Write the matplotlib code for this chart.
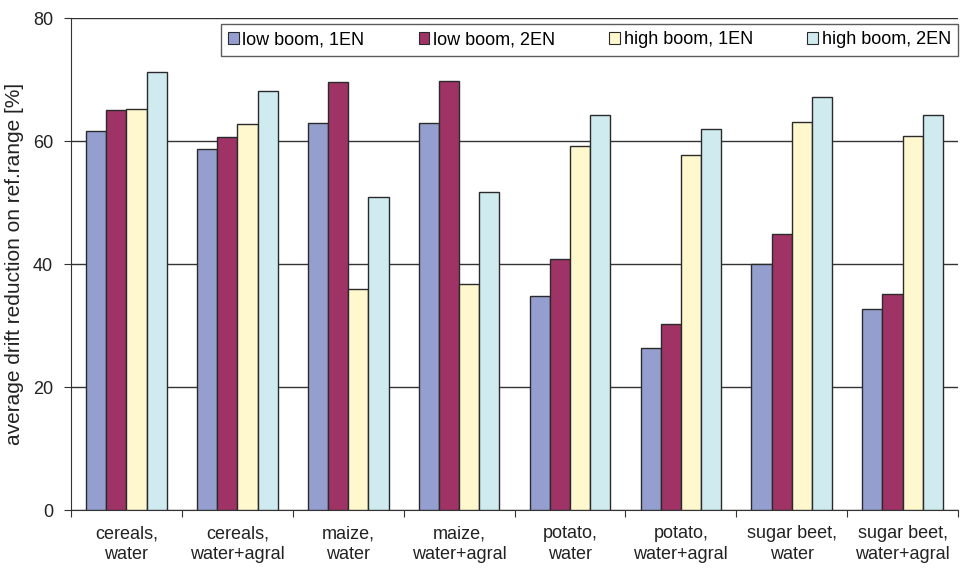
import matplotlib.pyplot as plt
import numpy as np

plt.rcParams['font.family'] = ['Liberation Sans', 'DejaVu Sans']

# categories and series
categories = ["cereals,\nwater", "cereals,\nwater+agral", "maize,\nwater", "maize,\nwater+agral",
              "potato,\nwater", "potato,\nwater+agral", "sugar beet,\nwater", "sugar beet,\nwater+agral"]
series = ["low boom, 1EN", "low boom, 2EN", "high boom, 1EN", "high boom, 2EN"]
low_1en = [61.7, 58.8, 62.9, 63.0, 34.8, 26.4, 40.1, 32.7]
low_2en = [65.1, 60.7, 69.6, 69.8, 40.9, 30.2, 44.9, 35.1]
high_1en = [65.3, 62.8, 35.9, 36.7, 59.2, 57.7, 63.1, 60.9]
high_2en = [71.3, 68.1, 50.9, 51.8, 64.3, 61.9, 67.1, 64.2]
colors = ["#949fd0", "#a03366", "#fff8cf", "#cfebf0"]

fig = plt.figure(figsize=(9.6, 5.68), dpi=100)
ax = fig.add_axes([0.074, 0.102, 0.924, 0.866])

x = np.arange(len(categories))
w = 0.182
for i, vals in enumerate([low_1en, low_2en, high_1en, high_2en]):
    ax.bar(x + (i - 1.5) * w, vals, w, color=colors[i], edgecolor="#2a2a2a",
           linewidth=1.0, label=series[i], zorder=3)

ax.set_ylim(0, 80)
ax.set_xlim(-0.5, len(categories) - 0.5)
ax.set_yticks([0, 20, 40, 60, 80])
ax.yaxis.grid(True, color="#333333", linewidth=1.0, zorder=0)
ax.set_ylabel("average drift reduction on ref.range [%]", fontsize=15, color="#222222")
ax.yaxis.set_label_coords(-0.053, 0.5)

# group boundaries as ticks, names as minor labels
ax.set_xticks(np.arange(-0.5, len(categories), 1.0))
ax.set_xticklabels([])
ax.set_xticks(x, minor=True)
ax.set_xticklabels(categories, minor=True, fontsize=13, color="#222222", linespacing=1.3)
ax.tick_params(axis="x", which="minor", length=0, pad=11)
ax.tick_params(axis="x", which="major", length=5, color="#333333")
ax.tick_params(axis="y", labelsize=13, length=5, pad=8, color="#333333", labelcolor="#222222")

for s in ["top", "right"]:
    ax.spines[s].set_visible(False)
ax.spines["left"].set_color("#333333")
ax.spines["bottom"].set_color("#333333")

leg = ax.legend(loc="upper right", ncol=4, fontsize=13, frameon=True, fancybox=False,
                edgecolor="#333333", handlelength=0.6, handleheight=0.6, handletextpad=0.2,
                columnspacing=3.0, borderpad=0.4, borderaxespad=0,
                bbox_to_anchor=(1.0, 0.988))
leg.get_frame().set_linewidth(1.0)
for h in leg.legend_handles:
    h.set_linewidth(0.8)

fig.savefig("out.png", dpi=100)
